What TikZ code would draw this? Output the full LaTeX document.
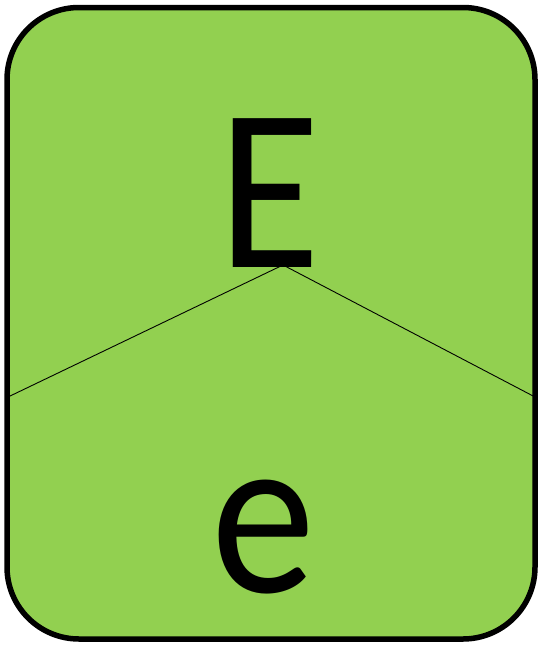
\documentclass[tikz,border=0pt]{standalone}
\usepackage{fontspec}
\setmainfont{Carlito}
\definecolor{cardgreen}{HTML}{92D050}
\begin{document}
\begin{tikzpicture}[x=1pt,y=-1pt,
  letter/.style={inner sep=0pt,anchor=base,xscale=0.9,font=\fontsize{232}{232}\selectfont}]
\useasboundingbox (0,0) rectangle (542,645);
\draw[fill=cardgreen,line width=5.5pt,rounded corners=72pt] (7,7.5) rectangle (535,639);
\node[letter] (E) at (269,267) {E};
\node[letter] (e) at (263,592) {e};
\coordinate (apex) at (283,265);
\coordinate (L) at (8,397);
\coordinate (R) at (535,397);
\draw[line width=0.9pt] (L) -- (apex) -- (R);
\end{tikzpicture}
\end{document}
